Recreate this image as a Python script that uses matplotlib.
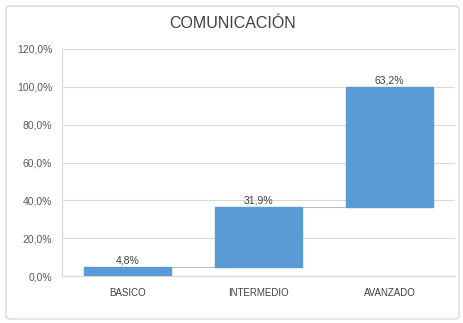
import matplotlib.pyplot as plt
from matplotlib.patches import FancyBboxPatch

categories = ['BASICO', 'INTERMEDIO', 'AVANZADO']
values = [4.8, 31.9, 63.2]
labels = ['4,8%', '31,9%', '63,2%']
yticks = [0, 20, 40, 60, 80, 100, 120]

plt.rcParams['font.family'] = ['Liberation Sans', 'DejaVu Sans']

fig = plt.figure(figsize=(4.64, 3.23), dpi=100)
ax = fig.add_axes([62 / 464, 1 - 276 / 323, (455 - 62) / 464, (276 - 49) / 323])

# waterfall bottoms
bottoms = []
total = 0
for v in values:
    bottoms.append(total)
    total += v

x = list(range(len(categories)))
ax.bar(x, values, bottom=bottoms, width=0.67, color='#5B9BD5', edgecolor='#5B9BD5', zorder=3)

# connectors
for i in range(len(values) - 1):
    top = bottoms[i] + values[i]
    ax.plot([i + 0.335, i + 1 - 0.335], [top, top], color='#BFBFBF', lw=0.8, zorder=2)

for i, (v, b) in enumerate(zip(values, bottoms)):
    ax.text(i, b + v + 0.6, labels[i], ha='center', va='bottom', fontsize=7.5, color='#404040')

ax.set_xlim(-0.5, 2.5)
ax.set_ylim(0, 120)
ax.set_yticks(yticks)
ax.set_yticklabels(['%d,0%%' % t for t in yticks], fontsize=7.5, color='#595959')
ax.set_xticks(x)
ax.set_xticklabels(categories, fontsize=7, color='#404040')
ax.tick_params(length=0, pad=9)
ax.tick_params(axis='y', pad=7)
ax.grid(axis='y', color='#D9D9D9', lw=0.8, zorder=0)
for s in ['top', 'right']:
    ax.spines[s].set_visible(False)
ax.spines['left'].set_color('#D9D9D9')
ax.spines['bottom'].set_color('#D9D9D9')

fig.text(233 / 464, 1 - 24 / 323, 'COMUNICACIÓN', ha='center', va='center', fontsize=11.5, color='#404040')

border = FancyBboxPatch((6 / 464, 4 / 323), 453 / 464, 313 / 323, boxstyle='round,pad=0,rounding_size=0.01',
                        transform=fig.transFigure, fill=False, edgecolor='#D9D9D9', lw=1)
fig.patches.append(border)

plt.savefig('out.png', dpi=100)
